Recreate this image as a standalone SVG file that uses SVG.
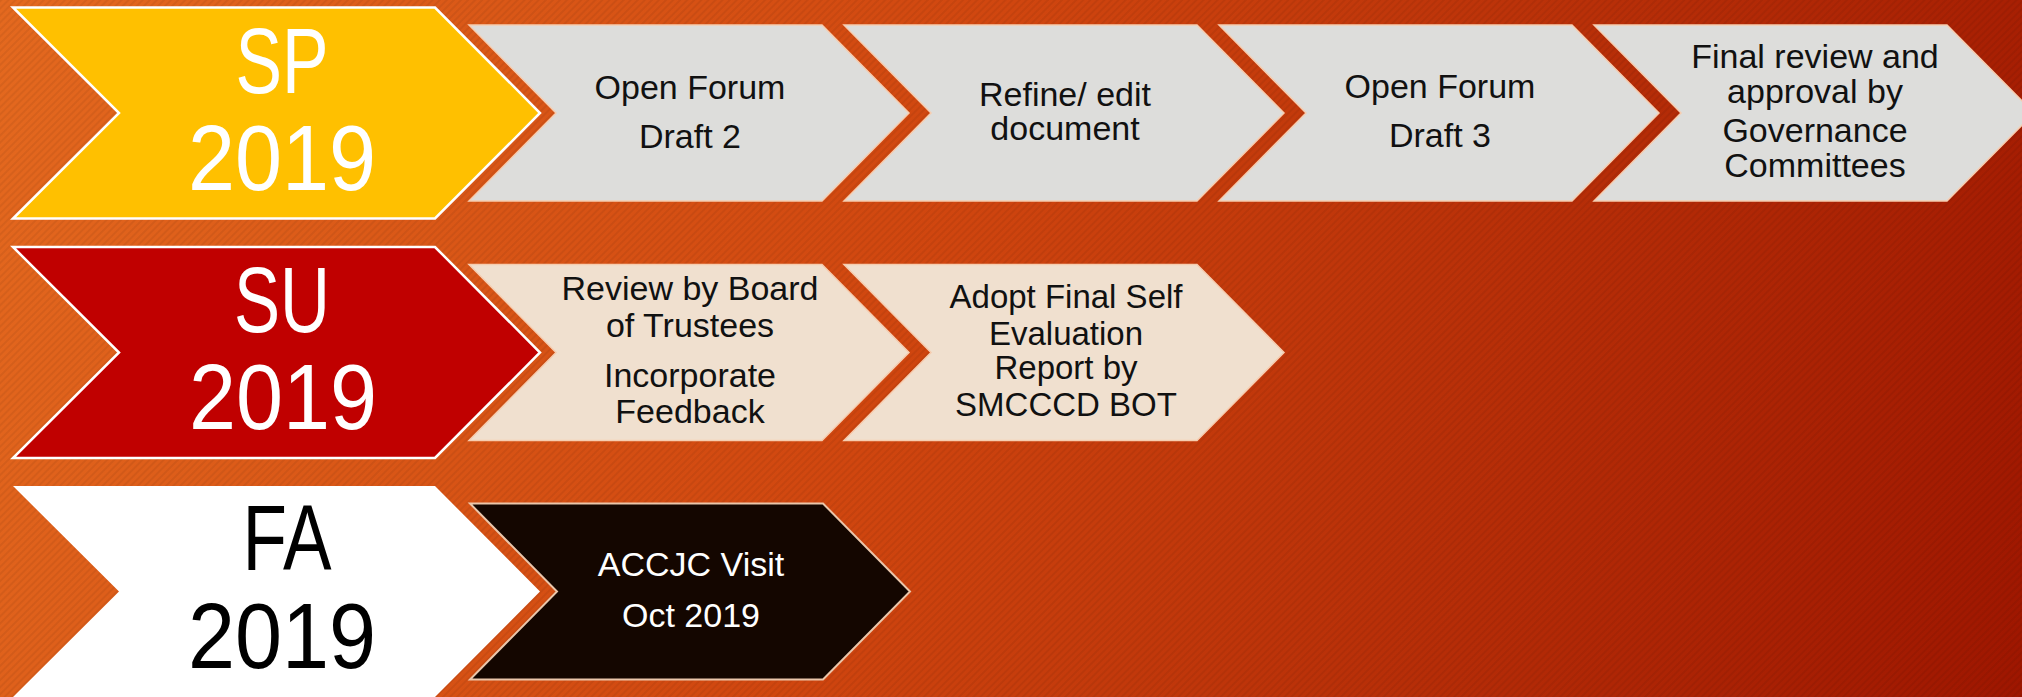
<svg xmlns="http://www.w3.org/2000/svg" width="2022" height="697" viewBox="0 0 2022 697">
<defs>
<linearGradient id="bg" x1="0" y1="0" x2="2022" y2="697" gradientUnits="userSpaceOnUse">
<stop offset="0" stop-color="#E4691F"/>
<stop offset="0.45" stop-color="#D0460F"/>
<stop offset="1" stop-color="#9E1600"/>
</linearGradient>
<pattern id="stripes" width="5" height="5" patternUnits="userSpaceOnUse" patternTransform="rotate(45)">
<rect x="0" y="0" width="2" height="5" fill="#000" fill-opacity="0.06"/>
</pattern>
<polygon id="big" points="0,-105.5 422,-105.5 527,0 422,105.5 0,105.5 106,0"/>
<polygon id="small" points="0,-88 353,-88 440,0 353,88 0,88 87,0"/>
</defs>
<style>
.bigtxt{font-family:"Liberation Sans Narrow","Liberation Sans",Arial,sans-serif;font-size:92px;text-anchor:middle}
.txt{font-family:"Liberation Sans",Arial,sans-serif;font-size:34px;text-anchor:middle;fill:#111}
.txt2{font-family:"Liberation Sans",Arial,sans-serif;font-size:33px;text-anchor:middle;fill:#111}
.grey{fill:#DDDDDB;stroke:#F6CDB0;stroke-width:1.5}
.beige{fill:#F0E0CF;stroke:#F6CDB0;stroke-width:1.5}
</style>
<rect x="0" y="0" width="2022" height="697" fill="url(#bg)"/>
<rect x="0" y="0" width="2022" height="697" fill="url(#stripes)"/>
<g id="connectors"/>
<g id="sp2019">
<use href="#big" x="13" y="113" fill="#FFC000" stroke="#FFFFFF" stroke-width="2.5"/>
<text class="bigtxt" fill="#FFFFFF" x="282" y="93" textLength="93" lengthAdjust="spacingAndGlyphs">SP</text>
<text class="bigtxt" fill="#FFFFFF" x="282" y="190" textLength="188" lengthAdjust="spacingAndGlyphs">2019</text>
</g>
<g id="open-forum-2">
<use href="#small" x="469" y="113" class="grey"/>
<text class="txt" x="690" y="99">Open Forum</text>
<text class="txt" x="690" y="148">Draft 2</text>
</g>
<g id="refine">
<use href="#small" x="844" y="113" class="grey"/>
<text class="txt" x="1065" y="106">Refine/ edit</text>
<text class="txt" x="1065" y="140">document</text>
</g>
<g id="open-forum-3">
<use href="#small" x="1219" y="113" class="grey"/>
<text class="txt" x="1440" y="98">Open Forum</text>
<text class="txt" x="1440" y="147">Draft 3</text>
</g>
<g id="final-review">
<use href="#small" x="1594" y="113" class="grey"/>
<text class="txt" x="1815" y="68">Final review and</text>
<text class="txt" x="1815" y="103">approval by</text>
<text class="txt" x="1815" y="142">Governance</text>
<text class="txt" x="1815" y="177">Committees</text>
</g>
<g id="su2019">
<use href="#big" x="13" y="352.5" fill="#C00000" stroke="#FFFFFF" stroke-width="2.5"/>
<text class="bigtxt" fill="#FFFFFF" x="282" y="332" textLength="96" lengthAdjust="spacingAndGlyphs">SU</text>
<text class="bigtxt" fill="#FFFFFF" x="283" y="429" textLength="188" lengthAdjust="spacingAndGlyphs">2019</text>
</g>
<g id="review-board">
<use href="#small" x="469" y="352.5" class="beige"/>
<text class="txt" x="690" y="300">Review by Board</text>
<text class="txt" x="690" y="337">of Trustees</text>
<text class="txt" x="690" y="387">Incorporate</text>
<text class="txt" x="690" y="423">Feedback</text>
</g>
<g id="adopt">
<use href="#small" x="844" y="352.5" class="beige"/>
<text class="txt2" x="1066" y="308">Adopt Final Self</text>
<text class="txt2" x="1066" y="345">Evaluation</text>
<text class="txt2" x="1066" y="379">Report by</text>
<text class="txt2" x="1066" y="416">SMCCCD BOT</text>
</g>
<g id="fa2019">
<use href="#big" x="13" y="591.5" fill="#FFFFFF"/>
<text class="bigtxt" fill="#000000" x="287" y="570" textLength="89" lengthAdjust="spacingAndGlyphs">FA</text>
<text class="bigtxt" fill="#000000" x="282" y="668" textLength="188" lengthAdjust="spacingAndGlyphs">2019</text>
</g>
<g id="accjc">
<use href="#small" x="470" y="591.5" fill="#140600" stroke="#EBC6AA" stroke-width="2"/>
<text class="txt" style="fill:#FFFFFF" x="691" y="576">ACCJC Visit</text>
<text class="txt" style="fill:#FFFFFF" x="691" y="627">Oct 2019</text>
</g>
</svg>
